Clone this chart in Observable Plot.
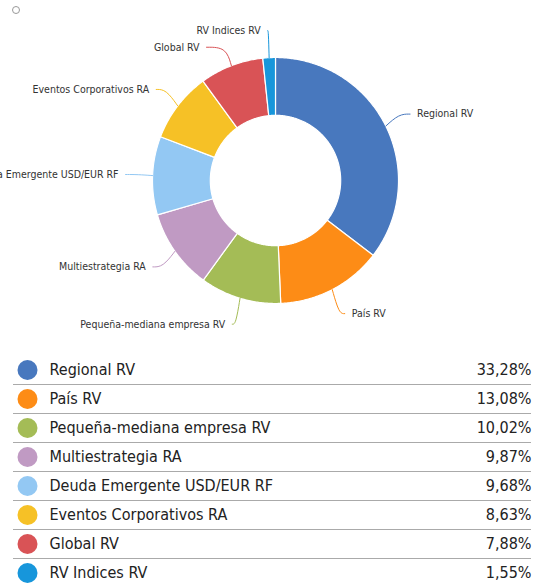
<!DOCTYPE html>
<html>
<head>
<meta charset="utf-8">
<script src="https://cdn.jsdelivr.net/npm/d3@7"></script>
<script src="https://cdn.jsdelivr.net/npm/@observablehq/plot@0.6"></script>
<style>
  html, body { margin: 0; padding: 0; background: #fff; overflow: hidden; }
  body { width: 534px; font-family: "DejaVu Sans Condensed", "DejaVu Sans", sans-serif; font-stretch: condensed; position: relative; }
  #dot { position: absolute; left: 12px; top: 6px; width: 6px; height: 6px; border: 1px solid #999; border-radius: 50%; }
  svg { display: block; }
  svg text { font-stretch: condensed; }
</style>
</head>
<body>
<div id="dot"></div>
<div id="chart"></div>
<div id="legend"></div>
<script>
const names = ["Regional RV", "País RV", "Pequeña-mediana empresa RV", "Multiestrategia RA",
  "Deuda Emergente USD/EUR RF", "Eventos Corporativos RA", "Global RV", "RV Indices RV"];
const values = [33.28, 13.08, 10.02, 9.87, 9.68, 8.63, 7.88, 1.55];
const valueLabels = ["33,28%", "13,08%", "10,02%", "9,87%", "9,68%", "8,63%", "7,88%", "1,55%"];
const colors = ["#4878be", "#fd8c16", "#a4bc56", "#c09ac3", "#93c8f3", "#f6c126", "#d95356", "#1796db"];

const INNER = 0.53, LABEL_R = 1.22, GAP = 0.135;
const FONT = "'DejaVu Sans Condensed', 'DejaVu Sans', sans-serif";

const arcs = d3.pie().sort(null)(values);

// slice polygons (unit coordinates, y up)
const slicePts = [];
arcs.forEach((a, i) => {
  const n = Math.max(4, Math.ceil((a.endAngle - a.startAngle) / 0.01));
  const pts = [];
  for (let k = 0; k <= n; k++) {
    const t = a.startAngle + (a.endAngle - a.startAngle) * k / n;
    pts.push([Math.sin(t), Math.cos(t)]);
  }
  for (let k = n; k >= 0; k--) {
    const t = a.startAngle + (a.endAngle - a.startAngle) * k / n;
    pts.push([INNER * Math.sin(t), INNER * Math.cos(t)]);
  }
  pts.push(pts[0]);
  pts.forEach(([x, y]) => slicePts.push({name: names[i], x, y}));
});

// labels
const labels = arcs.map((a, i) => {
  const m = (a.startAngle + a.endAngle) / 2;
  return {name: names[i], m, side: Math.sin(m) >= 0 ? 1 : -1, y: LABEL_R * Math.cos(m)};
});
for (const side of [1, -1]) {
  const group = labels.filter(l => l.side === side).sort((p, q) => q.y - p.y);
  for (let k = 1; k < group.length; k++) {
    if (group[k].y > group[k - 1].y - GAP) group[k].y = group[k - 1].y - GAP;
  }
}
labels.forEach(l => {
  l.x = l.side * Math.sqrt(Math.max(LABEL_R * LABEL_R - l.y * l.y, 0));
});
const connPts = [];
labels.forEach(l => {
  const ex = Math.sin(l.m), ey = Math.cos(l.m);
  let cx = 1.12 * Math.sin(l.m);
  if (l.side * cx > l.side * l.x) cx = l.x;
  connPts.push({name: l.name, x: ex, y: ey, o: 0});
  connPts.push({name: l.name, x: cx, y: l.y, o: 1});
  connPts.push({name: l.name, x: l.x, y: l.y, o: 2});
});

const colorScale = {domain: names, range: colors};

const chart = Plot.plot({
  width: 534, height: 355,
  margin: 0,
  x: {domain: [-1, 1], range: [152, 398], axis: null},
  y: {domain: [-1, 1], range: [303, 57], axis: null},
  color: colorScale,
  style: {fontFamily: FONT, background: "#fff"},
  marks: [
    Plot.line(slicePts, {x: "x", y: "y", z: "name", fill: "name", stroke: "#fff", strokeWidth: 1.2, strokeLinejoin: "round"}),
    Plot.line(connPts, {x: "x", y: "y", z: "name", stroke: "name", strokeWidth: 1, curve: "basis"}),
    Plot.text(labels.filter(l => l.side > 0), {x: "x", y: "y", text: "name", textAnchor: "start", dx: 7, fontSize: 10.5, fill: "#333"}),
    Plot.text(labels.filter(l => l.side < 0), {x: "x", y: "y", text: "name", textAnchor: "end", dx: -7, fontSize: 10.5, fill: "#333"})
  ]
});
document.getElementById("chart").appendChild(chart);

const rows = names.map((n, i) => ({name: n, i, label: valueLabels[i]}));
const legend = Plot.plot({
  width: 534, height: 232,
  marginLeft: 13, marginRight: 3, marginTop: 0, marginBottom: 0,
  x: {domain: [0, 1], axis: null},
  y: {domain: [0, 8], range: [0, 232], axis: null},
  color: colorScale,
  style: {fontFamily: FONT, background: "#fff"},
  marks: [
    Plot.ruleY(rows.slice(0, -1), {y: d => d.i + 1, stroke: "#aaa", strokeWidth: 1.2}),
    Plot.dot(rows, {y: d => d.i + 0.5, frameAnchor: "left", dx: 14, r: 10, fill: "name", stroke: null}),
    Plot.text(rows, {y: d => d.i + 0.5, frameAnchor: "left", dx: 36, text: "name", textAnchor: "start", fontSize: 16, fill: "#222"}),
    Plot.text(rows, {y: d => d.i + 0.5, frameAnchor: "right", text: "label", textAnchor: "end", fontSize: 16, fill: "#222"})
  ]
});
document.getElementById("legend").appendChild(legend);
</script>
</body>
</html>
